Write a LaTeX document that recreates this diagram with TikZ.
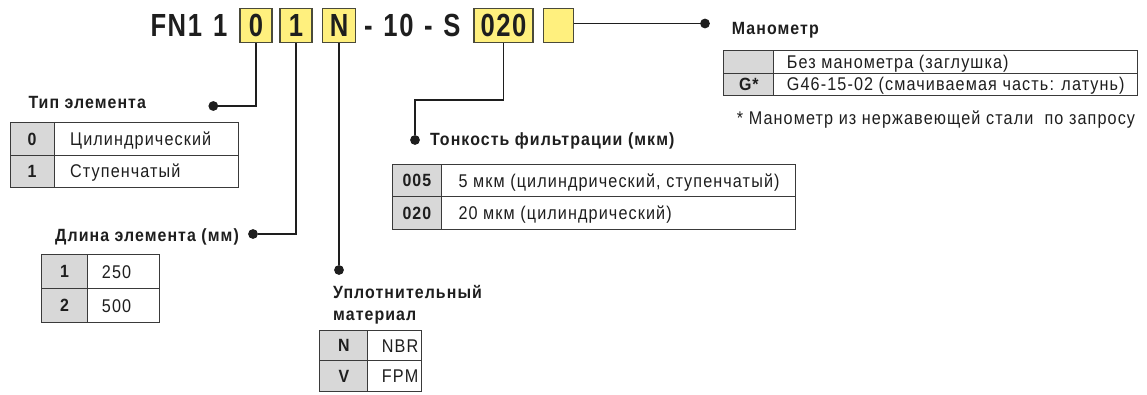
\documentclass[tikz,border=0pt]{standalone}
\usepackage{fontspec}
\setmainfont{Liberation Sans}
% narrow, slightly tracked faces for the catalogue text
\newfontfamily\bodyfont[FakeStretch=0.88,LetterSpace=6]{Liberation Sans}
\newfontfamily\headfont[FakeStretch=0.9,LetterSpace=6]{Liberation Sans}
\newfontfamily\codefont[FakeStretch=0.80,LetterSpace=5]{Liberation Sans}

\definecolor{ink}{HTML}{1E1E1E}
\definecolor{codeyellow}{HTML}{FFF07E}
\definecolor{codeline}{HTML}{4A4A3A}
\definecolor{keygray}{HTML}{D8D8D8}
\definecolor{grid}{HTML}{3A3A3A}

\tikzset{
  txt/.style={inner sep=0pt, text height=13.2pt, text depth=0pt, anchor=west,
    text=ink, font=\bodyfont\fontsize{18.4}{21}\selectfont},
  head/.style={inner sep=0pt, text height=12.7pt, text depth=0pt, anchor=west,
    text=ink, font=\headfont\bfseries\fontsize{17.7}{20}\selectfont},
  codetxt/.style={inner sep=0pt, text height=22.9pt, text depth=0pt,
    text=ink, font=\codefont\bfseries\fontsize{32}{36}\selectfont},
  codebox/.style={codetxt, draw=codeline, fill=codeyellow, line width=1.3pt,
    minimum height=34pt},
  keycell/.style={draw=grid, fill=keygray, line width=1.1pt, inner sep=0pt,
    anchor=north west, text height=12.7pt, text depth=0pt, text=ink,
    font=\headfont\bfseries\fontsize{17.7}{20}\selectfont},
  valcell/.style={draw=grid, fill=white, line width=1.1pt, inner sep=0pt,
    anchor=north west},
  wire/.style={draw=ink, line width=1.9pt},
  pin/.style={circle, fill=ink, inner sep=0pt, minimum size=9.8pt},
}

\begin{document}
\begin{tikzpicture}[x=1pt,y=-1pt]
\useasboundingbox (0,0) rectangle (1147,394);

% ---- order code ----
\node[codetxt, anchor=east] (pre) at (227.5,24.7) {FN1\hspace{11pt}1};
\node[codebox, minimum width=32pt] (b0) at (256,25.3) {0};
\node[codebox, minimum width=32pt] (b1) at (296,25.3) {1};
\node[codebox, minimum width=33pt] (bN) at (339,25.3) {N};
\node[codetxt, anchor=west] (mid) at (364,24.7)
  {-\hspace{10.7pt}10\hspace{10.7pt}-\hspace{10.7pt}S};
\node[codebox, minimum width=59pt] (bF) at (503.5,25.3) {020};
\node[codebox, minimum width=30pt] (bG) at (558.3,25.3) {};

% ---- pins ----
\node[pin] (pin0) at (213.3,106) {};
\node[pin] (pin1) at (253,234) {};
\node[pin] (pinN) at (339,270) {};
\node[pin] (pinF) at (415,140) {};
\node[pin] (pinG) at (705,23.5) {};
\coordinate (fbend) at (415,100);

% ---- connectors ----
\draw[wire] (b0.south) |- (pin0);
\draw[wire] (b1.south) |- (pin1);
\draw[wire] (bN.south) -- (pinN);
\draw[wire] (bF.south) |- (fbend) -- (pinF);
\draw[wire] (bG.east |- pinG) -- (pinG);

% ---- element type ----
\node[head] (typehead) at (28.3,102.5) {Тип элемента};
\node[keycell, minimum width=44pt, minimum height=32.5pt] (tk0) at (9.5,122) {0};
\node[valcell, minimum width=184pt, minimum height=32.5pt] (tv0) at (53.5,122) {};
\node[keycell, minimum width=44pt, minimum height=32.5pt] (tk1) at (9.5,154.5) {1};
\node[valcell, minimum width=184pt, minimum height=32.5pt] (tv1) at (53.5,154.5) {};
\node[txt] at ([xshift=16.5pt]tv0.west) {Цилиндрический};
\node[txt] at ([xshift=16.5pt]tv1.west) {Ступенчатый};

% ---- element length ----
\node[head] (lenhead) at (55,235) {Длина элемента (мм)};
\node[keycell, minimum width=46.6pt, minimum height=34pt] (lk1) at (40.7,254) {1};
\node[valcell, minimum width=72pt, minimum height=34pt] (lv1) at (87.3,254) {};
\node[keycell, minimum width=46.6pt, minimum height=34pt] (lk2) at (40.7,288) {2};
\node[valcell, minimum width=72pt, minimum height=34pt] (lv2) at (87.3,288) {};
\node[txt] at ([xshift=14.4pt]lv1.west) {250};
\node[txt] at ([xshift=14.4pt]lv2.west) {500};

% ---- seal material ----
\node[head] (sealhead1) at (333,292) {Уплотнительный};
\node[head] (sealhead2) at (333,314) {материал};
\node[keycell, minimum width=48pt, minimum height=30.7pt] (sk1) at (319.3,329.5) {N};
\node[valcell, minimum width=53.7pt, minimum height=30.7pt] (sv1) at (367.3,329.5) {};
\node[keycell, minimum width=48pt, minimum height=30.7pt] (sk2) at (319.3,360.2) {V};
\node[valcell, minimum width=53.7pt, minimum height=30.7pt] (sv2) at (367.3,360.2) {};
\node[txt] at ([xshift=14.4pt]sv1.west) {NBR};
\node[txt] at ([xshift=14.4pt]sv2.west) {FPM};

% ---- filtration rating ----
\node[head] (filthead) at (430,139) {Тонкость фильтрации (мкм)};
\node[keycell, minimum width=49.3pt, minimum height=32.7pt] (fk1) at (391.7,163.5) {005};
\node[valcell, minimum width=354pt, minimum height=32.7pt] (fv1) at (441,163.5) {};
\node[keycell, minimum width=49.3pt, minimum height=32.7pt] (fk2) at (391.7,196.2) {020};
\node[valcell, minimum width=354pt, minimum height=32.7pt] (fv2) at (441,196.2) {};
\node[txt] at ([xshift=17.3pt]fv1.west) {5 мкм (цилиндрический, ступенчатый)};
\node[txt] at ([xshift=17.3pt]fv2.west) {20 мкм (цилиндрический)};

% ---- pressure gauge ----
\node[head] (gaugehead) at (731.7,28.3) {Манометр};
\node[keycell, minimum width=50pt, minimum height=22.5pt] (gk1) at (723.3,50) {};
\node[valcell, minimum width=363.4pt, minimum height=22.5pt] (gv1) at (773.3,50) {};
\node[keycell, minimum width=50pt, minimum height=22.5pt] (gk2) at (723.3,72.5) {G*};
\node[valcell, minimum width=363.4pt, minimum height=22.5pt] (gv2) at (773.3,72.5) {};
\node[txt] at ([xshift=13.4pt]gv1.west) {Без манометра (заглушка)};
\node[txt] at ([xshift=13.4pt]gv2.west) {G46-15-02 (смачиваемая часть: латунь)};
\node[txt] (gaugenote) at (736.7,117.5) {* Манометр из нержавеющей стали\ \ по запросу};
\end{tikzpicture}
\end{document}
